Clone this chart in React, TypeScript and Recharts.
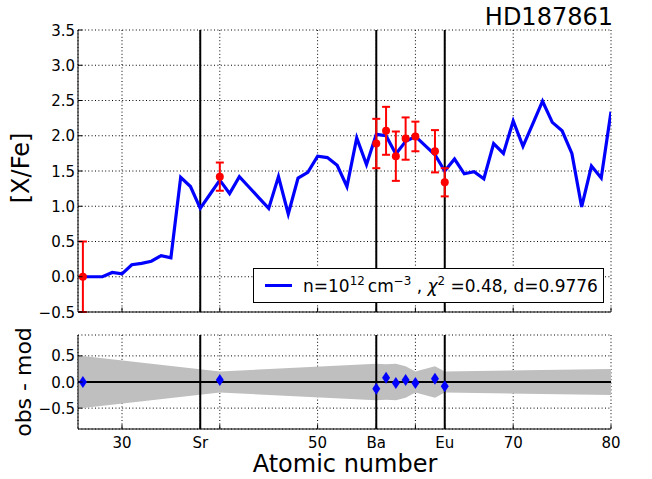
import {
  Area,
  CartesianGrid,
  ComposedChart,
  ErrorBar,
  Line,
  ReferenceLine,
  Scatter,
  XAxis,
  YAxis,
} from 'recharts'

const FONT = '"DejaVu Sans", sans-serif'

// model abundances, one value per atomic number
const atomicNumbers = [
  26, 27, 28, 29, 30, 31, 32, 33, 34, 35, 36, 37, 38, 39, 40, 41, 42, 43, 44, 45, 46, 47, 48, 49, 50, 51, 52, 53,
  54, 55, 56, 57, 58, 59, 60, 61, 62, 63, 64, 65, 66, 67, 68, 69, 70, 71, 72, 73, 74, 75, 76, 77, 78, 79, 80,
]
const modelXFe = [
  0.0, 0.0, 0.0, 0.06, 0.04, 0.17, 0.19, 0.22, 0.3, 0.27, 1.41, 1.28, 0.97, 1.17, 1.37, 1.18, 1.42, 1.27, 1.12, 0.97,
  1.42, 0.89, 1.4, 1.48, 1.71, 1.69, 1.58, 1.28, 1.97, 1.59, 2.02, 2.0, 1.74, 1.92, 1.99, 1.86, 1.73, 1.5, 1.67, 1.46,
  1.49, 1.39, 1.89, 1.75, 2.21, 1.85, 2.17, 2.49, 2.19, 2.07, 1.75, 0.99, 1.57, 1.4, 2.34,
]

// observed abundances with their errors
const obsZ = [26, 40, 56, 57, 58, 59, 60, 62, 63]
const obsXFe = [0.0, 1.42, 1.89, 2.07, 1.71, 1.96, 1.99, 1.78, 1.34]
const obsErr = [0.5, 0.2, 0.35, 0.34, 0.35, 0.3, 0.21, 0.3, 0.2]
const residuals = [0.0, 0.04, -0.13, 0.08, -0.02, 0.04, -0.02, 0.06, -0.08]

// error envelope for the residual panel
const bandZ = [25.5, 26, 40, 56, 57, 58, 59, 60, 62, 63, 80]
const bandHalfWidth = [0.5, 0.5, 0.2, 0.35, 0.34, 0.35, 0.3, 0.2, 0.3, 0.2, 0.25]

const xTicks = [30, 38, 40, 50, 56, 60, 63, 70, 80]
const xTickLabels = ['30', 'Sr', '', '50', 'Ba', '', 'Eu', '70', '80']
const elementLines = [38, 56, 63]
const topYTicks = [-0.5, 0, 0.5, 1, 1.5, 2, 2.5, 3, 3.5]
const bottomYTicks = [-0.5, 0, 0.5]

const modelRows = atomicNumbers.map((z, i) => ({ z, model: modelXFe[i] }))
const obsRows = obsZ.map((z, i) => ({ z, y: obsXFe[i], err: obsErr[i] }))
const residualRows = obsZ.map((z, i) => ({ z, r: residuals[i] }))
const bandRows = bandZ.map((z, i) => ({ z, band: [-bandHalfWidth[i], bandHalfWidth[i]] }))

const X_DOMAIN: [number, number] = [25.5, 80]
const TICK_LEN = 4.5
const TICK_FONT = 15

const fmtY = (v: number) => v.toFixed(1).replace('-', '\u2212')

const LeftTick = (props: any) => {
  const { x, y, payload } = props
  return (
    <g>
      <line x1={x} x2={x + TICK_LEN} y1={y} y2={y} stroke="#000" />
      <text x={x - 3} y={y + 5.5} textAnchor="end" fontSize={TICK_FONT} fontFamily={FONT} fill="#000">
        {fmtY(payload.value)}
      </text>
    </g>
  )
}

const RightTick = (props: any) => {
  const { x, y } = props
  return <line x1={x - TICK_LEN} x2={x} y1={y} y2={y} stroke="#000" />
}

const TopTick = (props: any) => {
  const { x, y } = props
  return <line x1={x} x2={x} y1={y} y2={y + TICK_LEN} stroke="#000" />
}

const BottomTick = (props: any) => {
  const { x, y, payload, withLabel } = props
  const idx = xTicks.indexOf(payload.value)
  return (
    <g>
      <line x1={x} x2={x} y1={y} y2={y - TICK_LEN} stroke="#000" />
      {withLabel && (
        <text x={x} y={y + 18.5} textAnchor="middle" fontSize={TICK_FONT} fontFamily={FONT} fill="#000">
          {xTickLabels[idx]}
        </text>
      )}
    </g>
  )
}

const RedDot = (props: any) => <circle cx={props.cx} cy={props.cy} r={4} fill="#ff0000" />

const Diamond = (props: any) => {
  const { cx, cy } = props
  return <polygon points={`${cx},${cy - 6} ${cx + 4},${cy} ${cx},${cy + 6} ${cx - 4},${cy}`} fill="#0000ff" />
}

const gridProps = { stroke: '#000', strokeWidth: 1, strokeDasharray: '1 2.4' }

const AbundancePanel = () => (
  <ComposedChart width={652} height={320} data={modelRows} margin={{ top: 30, right: 41, bottom: 0, left: 0 }}>
    <CartesianGrid {...gridProps} />
    <XAxis
      dataKey="z"
      type="number"
      domain={X_DOMAIN}
      ticks={xTicks}
      interval={0}
      height={8}
      tickSize={0}
      tickMargin={0}
      axisLine={{ stroke: '#000' }}
      tick={(p: any) => <BottomTick {...p} withLabel={false} />}
      allowDataOverflow
    />
    <XAxis
      xAxisId="top"
      orientation="top"
      type="number"
      domain={X_DOMAIN}
      ticks={xTicks}
      interval={0}
      height={0}
      tickSize={0}
      tickMargin={0}
      axisLine={{ stroke: '#000' }}
      tick={TopTick}
    />
    <YAxis
      dataKey="y"
      type="number"
      domain={[-0.5, 3.5]}
      ticks={topYTicks}
      interval={0}
      width={78}
      tickSize={0}
      tickMargin={0}
      axisLine={{ stroke: '#000' }}
      tick={LeftTick}
      allowDataOverflow
    />
    <YAxis
      yAxisId="right"
      orientation="right"
      type="number"
      domain={[-0.5, 3.5]}
      ticks={topYTicks}
      interval={0}
      width={0}
      tickSize={0}
      tickMargin={0}
      axisLine={{ stroke: '#000' }}
      tick={RightTick}
    />
    {elementLines.map((z) => (
      <ReferenceLine key={z} x={z} stroke="#000" strokeWidth={2} />
    ))}
    <Line
      dataKey="model"
      type="linear"
      stroke="#0000ff"
      strokeWidth={3.2}
      dot={false}
      isAnimationActive={false}
    />
    <Scatter data={obsRows} shape={RedDot} isAnimationActive={false}>
      <ErrorBar dataKey="err" direction="y" width={4} stroke="#ff0000" strokeWidth={2} isAnimationActive={false} />
    </Scatter>
  </ComposedChart>
)

const ResidualPanel = () => (
  <ComposedChart width={652} height={159} data={bandRows} margin={{ top: 15, right: 41, bottom: 0, left: 0 }}>
    <Area
      dataKey="band"
      type="linear"
      fill="#bfbfbf"
      fillOpacity={1}
      stroke="none"
      isAnimationActive={false}
    />
    <CartesianGrid {...gridProps} />
    <XAxis
      dataKey="z"
      type="number"
      domain={X_DOMAIN}
      ticks={xTicks}
      interval={0}
      height={50}
      tickSize={0}
      tickMargin={0}
      axisLine={{ stroke: '#000' }}
      tick={(p: any) => <BottomTick {...p} withLabel />}
      allowDataOverflow
    />
    <XAxis
      xAxisId="top"
      orientation="top"
      type="number"
      domain={X_DOMAIN}
      ticks={xTicks}
      interval={0}
      height={0}
      tickSize={0}
      tickMargin={0}
      axisLine={{ stroke: '#000' }}
      tick={TopTick}
    />
    <YAxis
      dataKey="r"
      type="number"
      domain={[-0.9, 0.9]}
      ticks={bottomYTicks}
      interval={0}
      width={78}
      tickSize={0}
      tickMargin={0}
      axisLine={{ stroke: '#000' }}
      tick={LeftTick}
      allowDataOverflow
    />
    <YAxis
      yAxisId="right"
      orientation="right"
      type="number"
      domain={[-0.9, 0.9]}
      ticks={bottomYTicks}
      interval={0}
      width={0}
      tickSize={0}
      tickMargin={0}
      axisLine={{ stroke: '#000' }}
      tick={RightTick}
    />
    {elementLines.map((z) => (
      <ReferenceLine key={z} x={z} stroke="#000" strokeWidth={2} />
    ))}
    <ReferenceLine y={0} stroke="#000" strokeWidth={2} />
    <Scatter data={residualRows} shape={Diamond} isAnimationActive={false} />
  </ComposedChart>
)

const sup = { fontSize: '0.7em', position: 'relative' as const, top: '-0.55em', lineHeight: 0 }

export default function App() {
  return (
    <div
      style={{
        position: 'absolute',
        left: 0,
        top: 0,
        width: 652,
        height: 479,
        background: '#fff',
        fontFamily: FONT,
        overflow: 'hidden',
      }}
    >
      <div style={{ position: 'absolute', left: 0, top: 0 }}>
        <AbundancePanel />
      </div>
      <div style={{ position: 'absolute', left: 0, top: 320 }}>
        <ResidualPanel />
      </div>

      {/* legend box */}
      <div
        style={{
          position: 'absolute',
          left: 253,
          top: 268,
          width: 351,
          height: 35,
          boxSizing: 'border-box',
          border: '1px solid #000',
          background: '#fff',
          display: 'flex',
          alignItems: 'center',
          fontSize: 17,
          color: '#000',
          whiteSpace: 'nowrap',
        }}
      >
        <div style={{ width: 27, height: 3, background: '#0000ff', marginLeft: 11, marginRight: 11 }} />
        <span>
          n=10<span style={sup}>12</span>
          <span style={{ marginLeft: 3 }}>cm</span>
          <span style={sup}>{'\u22123'}</span> , <i style={{ fontFamily: FONT }}>{'\u03c7'}</i>
          <span style={sup}>2</span> =0.48, d=0.9776
        </span>
      </div>

      <svg width={652} height={479} style={{ position: 'absolute', left: 0, top: 0, pointerEvents: 'none' }}>
        <text x={613} y={25} textAnchor="end" fontSize={24} fontFamily={FONT} fill="#000">
          HD187861
        </text>
        <text
          transform="translate(29,168) rotate(-90)"
          textAnchor="middle"
          fontSize={24}
          fontFamily={FONT}
          fill="#000"
        >
          [X/Fe]
        </text>
        <text
          transform="translate(31,382) rotate(-90)"
          textAnchor="middle"
          fontSize={22}
          fontFamily={FONT}
          fill="#000"
        >
          obs - mod
        </text>
        <text x={345} y={472} textAnchor="middle" fontSize={24} fontFamily={FONT} fill="#000">
          Atomic number
        </text>
      </svg>
    </div>
  )
}
